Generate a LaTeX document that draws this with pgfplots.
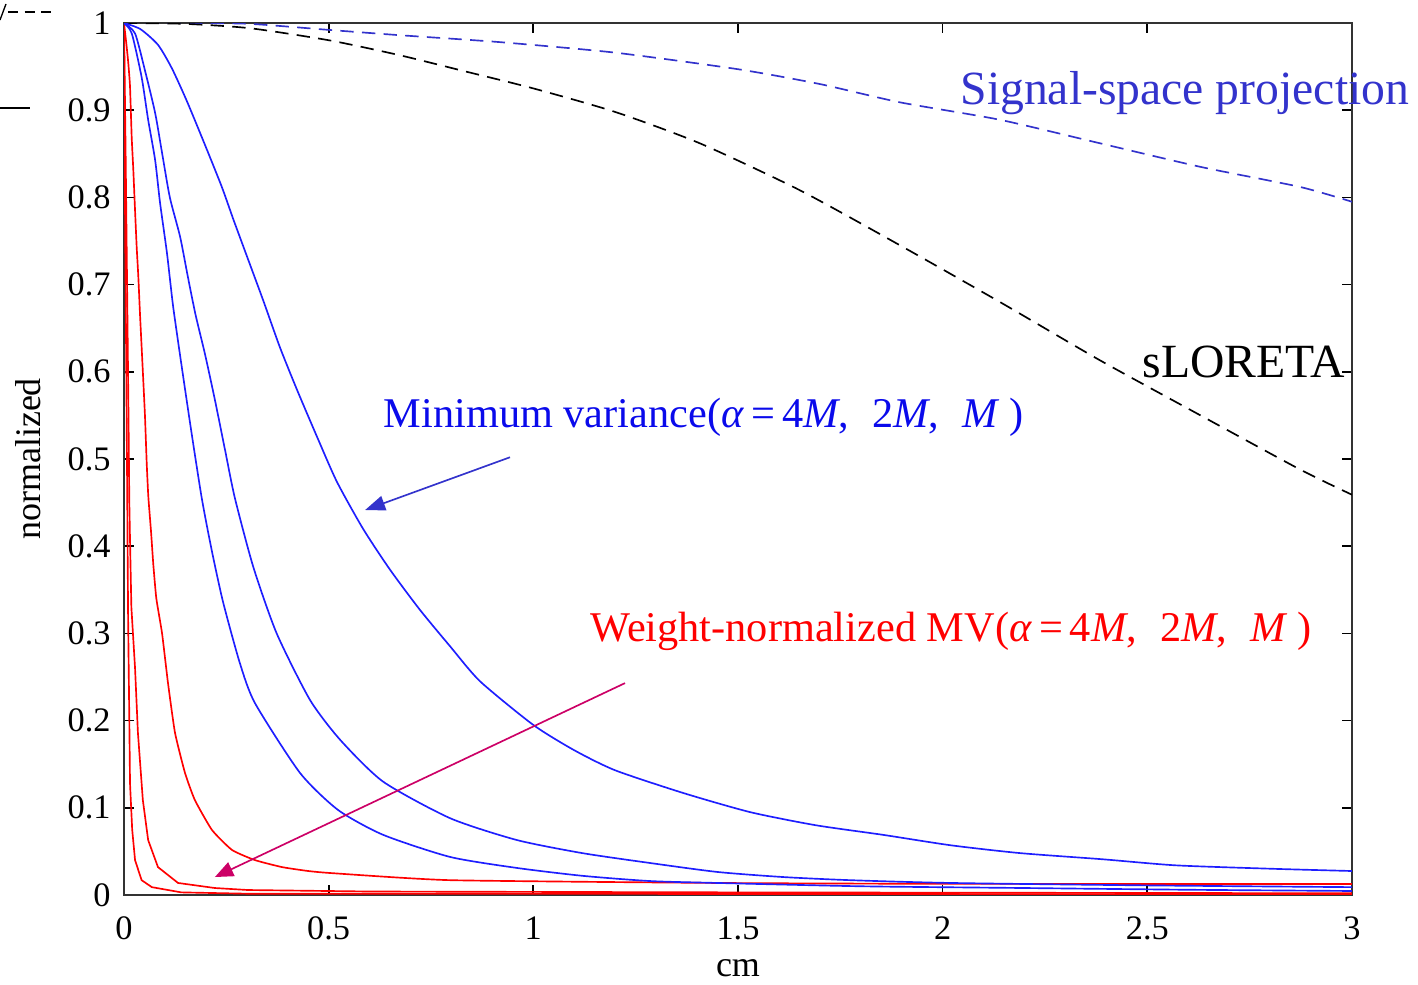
\documentclass[border=0pt]{standalone}
\usepackage[no-math]{fontspec}
\setmainfont{Liberation Serif}
\usepackage{pgfplots}
\pgfplotsset{compat=1.18}
\usetikzlibrary{arrows.meta}
\definecolor{sspblue}{RGB}{51,51,204}
\definecolor{mvblue}{RGB}{10,10,235}
\definecolor{curveblue}{RGB}{30,30,255}
\definecolor{arrowmag}{RGB}{204,0,102}
\begin{document}
\begin{tikzpicture}
\begin{axis}[
  scale only axis, width=368.4pt, height=261.6pt,
  xmin=0, xmax=3, ymin=0, ymax=1,
  xtick={0,0.5,1,1.5,2,2.5,3},
  xticklabels={0,0.5,1,1.5,2,2.5,3},
  ytick={0,0.1,0.2,0.3,0.4,0.5,0.6,0.7,0.8,0.9,1},
  yticklabels={0,0.1,0.2,0.3,0.4,0.5,0.6,0.7,0.8,0.9,1},
  tick align=inside, major tick length=3pt,
  tick style={black, line width=0.5pt},
  axis line style={black!80, line width=0.6pt},
  tick label style={font=\fontsize{10.3}{12}\selectfont},
  xticklabel style={yshift=-3pt},
  yticklabel style={xshift=-0.5pt},
  xlabel={cm}, ylabel={normalized},
  label style={font=\fontsize{10.8}{13}\selectfont},
  xlabel style={at={(rel axis cs:0.5,-0.0837)}, anchor=center},
  ylabel style={at={(rel axis cs:-0.078,0.5)}, anchor=center},
  clip mode=individual,
  every axis plot/.append style={line width=0.5pt},
]
% Signal-space projection
\addplot[sspblue, dash pattern=on 4pt off 2.5pt, smooth, tension=0.4] coordinates {
(0,1)(0.15,1.0)(0.308,0.999)(0.503,0.992)(0.674,0.986)(0.92,0.978)(1.2,0.966)(1.5,0.947)(1.7,0.930)(1.896,0.909)(2.14,0.889)(2.385,0.862)(2.63,0.835)(2.873,0.812)(3.0,0.795)};
% sLORETA
\addplot[black, dash pattern=on 4pt off 2.5pt, smooth, tension=0.4] coordinates {
(0,1)(0.15,0.999)(0.308,0.994)(0.503,0.98)(0.674,0.963)(0.838,0.944)(1.0,0.925)(1.2,0.898)(1.407,0.862)(1.652,0.808)(1.896,0.745)(2.14,0.680)(2.385,0.613)(2.63,0.550)(2.873,0.488)(3.0,0.459)};
% Weight-normalized MV (red)
\addplot[red] coordinates {
(0,1)(0.003,0.75)(0.006,0.58)(0.010,0.32)(0.013,0.2)(0.0147,0.128)(0.02,0.075)(0.027,0.04)(0.043,0.017)(0.068,0.009)(0.14,0.003)(0.3,0.0015)(3,0.0008)};
\addplot[red] coordinates {
(0,1)(0.004,0.85)(0.008,0.68)(0.011,0.55)(0.013,0.45)(0.015,0.40)(0.018,0.33)(0.027,0.26)(0.034,0.186)(0.046,0.109)(0.059,0.063)(0.083,0.032)(0.132,0.0138)(0.222,0.008)(0.303,0.0057)(0.6,0.004)(1.5,0.003)(3,0.002)};
\addplot[red, smooth, tension=0.3] coordinates {
(0,1)(0.006,0.975)(0.0105,0.954)(0.0147,0.927)(0.0188,0.869)(0.0228,0.831)(0.0269,0.786)(0.031,0.743)(0.035,0.709)(0.039,0.667)(0.043,0.629)(0.051,0.552)(0.0555,0.495)(0.0594,0.457)(0.066,0.417)(0.0716,0.379)(0.079,0.34)(0.093,0.300)(0.1075,0.243)(0.1246,0.186)(0.149,0.140)(0.173,0.109)(0.215,0.0745)(0.264,0.0516)(0.32,0.040)(0.386,0.032)(0.45,0.0275)(0.51,0.025)(0.797,0.017)(1.45,0.0138)(2.0,0.0128)(3.0,0.0126)};
% Minimum variance (blue)
\addplot[curveblue, smooth, tension=0.4] coordinates {
(0,1)(0.019,0.988)(0.043,0.938)(0.059,0.889)(0.076,0.843)(0.088,0.794)(0.105,0.736)(0.12,0.675)(0.141,0.606)(0.165,0.53)(0.19,0.455)(0.214,0.396)(0.242,0.336)(0.283,0.266)(0.32,0.220)(0.43,0.140)(0.523,0.0975)(0.633,0.069)(0.797,0.0436)(0.96,0.031)(1.12,0.022)(1.285,0.016)(1.45,0.0138)(1.8,0.010)(2.2,0.008)(2.6,0.006)(3,0.0046)};
\addplot[curveblue, smooth, tension=0.4] coordinates {
(0,1)(0.027,0.988)(0.051,0.946)(0.076,0.897)(0.093,0.851)(0.112,0.80)(0.137,0.755)(0.156,0.709)(0.175,0.665)(0.198,0.620)(0.222,0.568)(0.247,0.51)(0.271,0.455)(0.316,0.376)(0.373,0.30)(0.454,0.224)(0.528,0.178)(0.633,0.130)(0.797,0.088)(0.96,0.063)(1.12,0.048)(1.285,0.0367)(1.45,0.0264)(1.61,0.0206)(1.774,0.017)(2.02,0.0138)(2.5,0.011)(3,0.009)};
\addplot[curveblue, smooth, tension=0.4] coordinates {
(0,1)(0.04,0.993)(0.083,0.975)(0.117,0.948)(0.154,0.910)(0.198,0.860)(0.239,0.812)(0.267,0.775)(0.296,0.738)(0.34,0.682)(0.381,0.628)(0.423,0.579)(0.472,0.525)(0.52,0.474)(0.584,0.420)(0.65,0.373)(0.723,0.327)(0.797,0.285)(0.87,0.245)(1.0,0.195)(1.10,0.166)(1.20,0.143)(1.366,0.117)(1.53,0.095)(1.69,0.080)(1.854,0.069)(2.02,0.057)(2.19,0.048)(2.39,0.041)(2.57,0.034)(2.81,0.030)(3.0,0.0275)};
% annotations
\node[anchor=base west, inner sep=0, text=sspblue, font=\fontsize{14.3}{17}\selectfont] at (axis cs:2.042,0.906) {Signal-space projection};
\node[anchor=base west, inner sep=0, text=black, font=\fontsize{14.3}{17}\selectfont] at (axis cs:2.487,0.594) {sLORETA};
\node[anchor=base west, inner sep=0, text=mvblue, font=\fontsize{12.7}{15}\selectfont] at (axis cs:0.633,0.5356) {Minimum variance(\textit{α}\,=\,4\textit{M},\hspace{7pt}2\textit{M},\hspace{7pt}\textit{M}\hspace{3pt})};
\node[anchor=base west, inner sep=0, text=red, font=\fontsize{12.7}{15}\selectfont] at (axis cs:1.138,0.291) {Weight-normalized MV(\textit{α}\,=\,4\textit{M},\hspace{7pt}2\textit{M},\hspace{7pt}\textit{M}\hspace{3pt})};
\draw[sspblue, line width=0.5pt, -{Triangle[length=6pt,width=4.5pt]}] (axis cs:0.943,0.502) -- (axis cs:0.589,0.4415);
\draw[arrowmag, line width=0.5pt, -{Triangle[length=5.5pt,width=4.5pt]}] (axis cs:1.224,0.243) -- (axis cs:0.222,0.0206);
% stray marks at top left
\draw[black, line width=0.4pt, dash pattern=on 3pt off 2pt] (rel axis cs:-0.0945,1.0126) -- (rel axis cs:-0.0562,1.0126);
\draw[black, line width=0.4pt] (rel axis cs:-0.101,1.0034) -- (rel axis cs:-0.0961,1.0218);
\draw[black, line width=0.4pt] (rel axis cs:-0.101,0.9025) -- (rel axis cs:-0.0765,0.9025);
\coordinate (BL) at (rel axis cs:-0.10098,-0.10321);
\coordinate (TR) at (rel axis cs:1.05375,1.02638);
\end{axis}
\pgfresetboundingbox
\useasboundingbox (BL) rectangle (TR);
\end{tikzpicture}
\end{document}
